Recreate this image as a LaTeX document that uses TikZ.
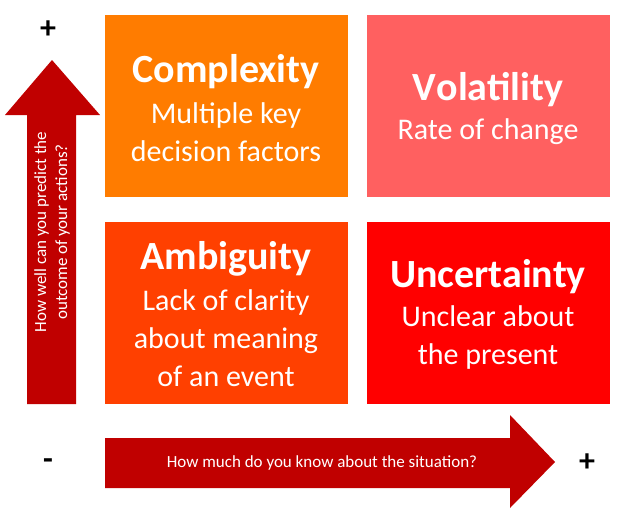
\documentclass[tikz,border=0pt]{standalone}
\usepackage{fontspec}
\setmainfont{Carlito}
\definecolor{cplx}{RGB}{255,124,0}
\definecolor{vola}{RGB}{255,96,96}
\definecolor{ambi}{RGB}{255,64,0}
\definecolor{unce}{RGB}{255,0,0}
\definecolor{axis}{RGB}{192,0,0}
\tikzset{
  quad/.style={fill=#1,draw=none},
  head/.style={text=white,font=\fontsize{40}{44}\selectfont\bfseries},
  body/.style={text=white,font=\fontsize{30}{38}\selectfont,align=center},
  axlabel/.style={text=white,font=\fontsize{17}{21}\selectfont,align=center},
  sign/.style={font=\fontsize{32}{32}\selectfont\bfseries}
}
\begin{document}
\begin{tikzpicture}[x=1pt,y=-1pt]
  \useasboundingbox (0,0) rectangle (624,525);
  % quadrants
  \fill[quad=cplx] (105,15) rectangle (348,197);
  \fill[quad=vola] (367,15) rectangle (610,197);
  \fill[quad=ambi] (105,222) rectangle (348,404);
  \fill[quad=unce] (367,222) rectangle (610,404);
  \node[head] (cplxh) at (226,72) {Complexity};
  \node[body] (cplxb) at (226,132) {Multiple key\\decision factors};
  \node[head] (volah) at (488,90) {\textcolor{white}{V}olatility};
  \node[body] (volab) at (488,132) {Rate of change};
  \node[head] (ambih) at (226,259) {Ambiguity};
  \node[body] (ambib) at (226,338) {Lack of clarity\\about meaning\\of an event};
  \node[head] (unceh) at (488,277) {Uncertainty};
  \node[body] (unceb) at (488,337) {Unclear about\\the present};
  % axes
  \fill[axis] (27,404) -- (27,115) -- (5,115) -- (52,60) -- (100,115) -- (76,115) -- (76,404) -- cycle;
  \fill[axis] (105,438) -- (510,438) -- (510,415) -- (555,462) -- (510,508) -- (510,488) -- (105,488) -- cycle;
  \node[axlabel,rotate=90] (yl) at (52,232) {How well can you predict the\\outcome of your actions?};
  \node[axlabel] (xl) at (322,463) {How much do you know about the situation?};
  \node[sign] (yplus) at (48,30) {+};
  \node[sign] (xminus) at (48,464) {-};
  \node[sign] (xplus) at (587,463) {+};
\end{tikzpicture}
\end{document}
